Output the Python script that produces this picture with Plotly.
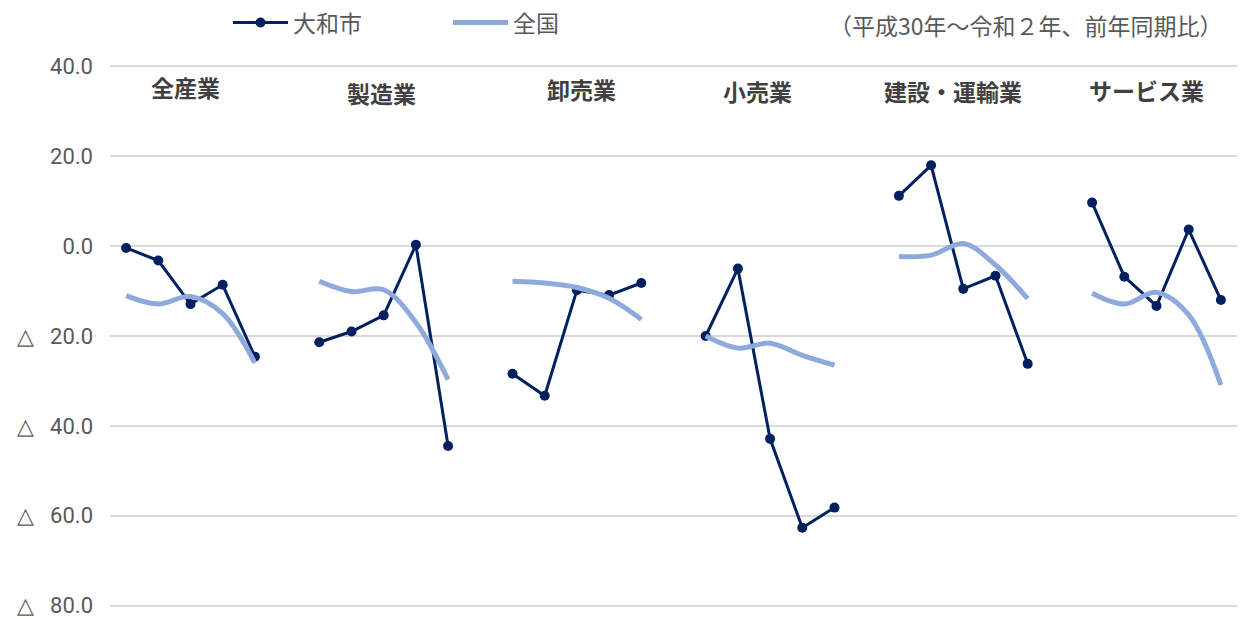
import plotly.graph_objects as go

industries = ["全産業", "製造業", "卸売業", "小売業", "建設・運輸業", "サービス業"]

yamato = [
    [-0.4, -3.2, -12.9, -8.6, -24.6],
    [-21.4, -19.0, -15.4, 0.3, -44.5],
    [-28.4, -33.3, -9.8, -10.9, -8.2],
    [-20.0, -5.0, -42.9, -62.7, -58.2],
    [11.2, 18.0, -9.5, -6.6, -26.2],
    [9.7, -6.8, -13.3, 3.7, -12.0],
]

national = [
    [-11.0, -12.9, -11.2, -15.0, -26.0],
    [-7.8, -10.1, -9.7, -17.0, -29.7],
    [-7.8, -8.2, -9.2, -11.6, -16.3],
    [-20.0, -22.7, -21.6, -24.3, -26.5],
    [-2.3, -2.0, 0.6, -4.2, -11.7],
    [-10.5, -12.9, -10.3, -15.3, -30.9],
]

y_ticks = [40, 20, 0, -20, -40, -60, -80]
y_ticktext = ["40.0", "20.0", "0.0", "△   20.0", "△   40.0", "△   60.0", "△   80.0"]

subtitle = "（平成30年～令和２年、前年同期比）"

# build x positions (5 points per group, one empty slot between groups)
xs, ys_y, ys_n = [], [], []
for g in range(len(industries)):
    for j in range(5):
        xs.append(6 * g + j)
        ys_y.append(yamato[g][j])
        ys_n.append(national[g][j])
    if g < len(industries) - 1:
        xs.append(6 * g + 5)
        ys_y.append(None)
        ys_n.append(None)

fig = go.Figure()
fig.add_trace(go.Scatter(
    x=xs, y=ys_y, name="大和市", mode="lines+markers",
    line=dict(color="#002060", width=3),
    marker=dict(color="#002060", size=10),
    connectgaps=False,
))
fig.add_trace(go.Scatter(
    x=xs, y=ys_n, name="全国", mode="lines",
    line=dict(color="#8eaadb", width=5, shape="spline", smoothing=1.0),
    connectgaps=False,
))

# plot area: x 110..1237 px, y (40 -> 66px, -80 -> 606px)
Y0, Y1 = -81, 41
top_px = 66 - 4.5
plot_h = 4.5 * (Y1 - Y0)

def paper_y(px):
    return 1 - (px - top_px) / plot_h

label_x = [1.83, 7.92, 14.13, 19.62, 25.68, 31.7]
label_y = [87, 93, 89, 91, 91, 90]
for g, name in enumerate(industries):
    fig.add_annotation(
        x=label_x[g], xref="x",
        y=paper_y(label_y[g]), yref="paper",
        text=f"<b>{name}</b>", showarrow=False,
        font=dict(family="Noto Sans CJK JP", size=23, color="#404040"),
        xanchor="center", yanchor="middle",
    )

fig.add_annotation(
    x=1 + (1225 - 1237) / 1127, xref="paper",
    y=paper_y(24), yref="paper",
    text=subtitle, showarrow=False,
    font=dict(family="Noto Sans CJK JP", size=23, color="#595959"),
    xanchor="right", yanchor="middle",
)

fig.update_layout(
    width=1247, height=619,
    margin=dict(l=110, r=10, t=top_px, b=619 - top_px - plot_h, autoexpand=False),
    paper_bgcolor="white", plot_bgcolor="white",
    showlegend=True,
    legend=dict(
        orientation="h",
        x=(228 - 110) / 1127, xanchor="left",
        y=paper_y(22), yanchor="middle",
        font=dict(family="Noto Sans CJK JP", size=23, color="#595959"),
        itemwidth=55,
        entrywidth=150, entrywidthmode="pixels",
        bgcolor="rgba(0,0,0,0)",
    ),
    xaxis=dict(
        range=[-0.5, 34.5], showgrid=False, showticklabels=False,
        zeroline=False, showline=False, ticks="",
    ),
    yaxis=dict(
        range=[Y0, Y1], tickvals=y_ticks, ticktext=y_ticktext,
        showgrid=True, gridcolor="#d9d9d9", gridwidth=1.5,
        zeroline=False, showline=False,
        tickfont=dict(family="Roboto", size=22, color="#595959"),
        ticklabelstandoff=16, ticklabeloverflow="allow",
    ),
)

fig.write_html("out.html")
